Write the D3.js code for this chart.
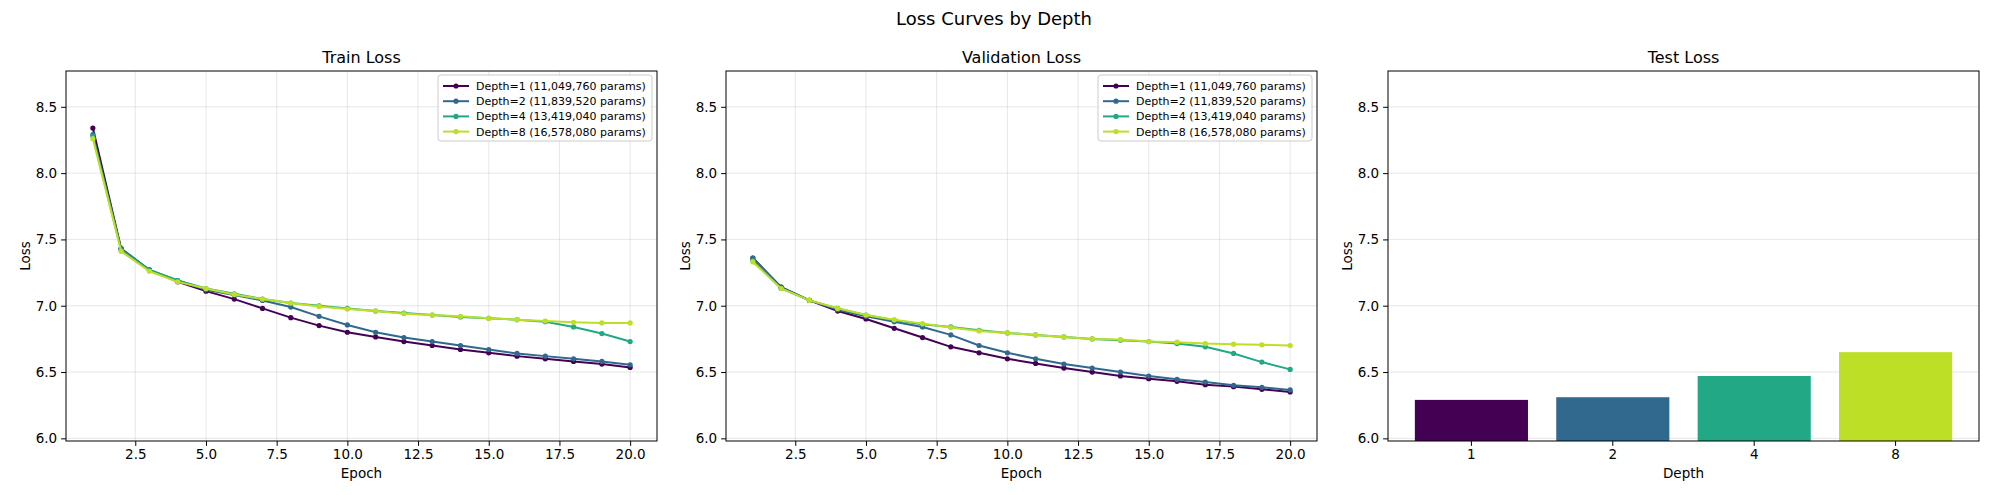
<!DOCTYPE html>
<html>
<head>
<meta charset="utf-8">
<script src="https://cdn.jsdelivr.net/npm/d3@7"></script>
<style>
  body { margin: 0; background: #fff; }
  text { font-family: "DejaVu Sans", sans-serif; fill: #000; }
  .grid line { stroke: #b0b0b0; stroke-opacity: 0.3; }
</style>
</head>
<body>
<div id="chart"></div>
<script>
var epochs = d3.range(1, 21);
var depths = [1, 2, 4, 8];
var seriesNames = ["Depth=1 (11,049,760 params)", "Depth=2 (11,839,520 params)",
  "Depth=4 (13,419,040 params)", "Depth=8 (16,578,080 params)"];
var colors = ["#440154", "#31688e", "#22a884", "#bddf26"];

var trainLoss = [
  [8.34, 7.43, 7.27, 7.18, 7.11, 7.05, 6.98, 6.91, 6.85, 6.80, 6.765, 6.73, 6.70, 6.67, 6.645, 6.62, 6.60, 6.58, 6.56, 6.535],
  [8.29, 7.43, 7.27, 7.19, 7.12, 7.08, 7.04, 6.99, 6.92, 6.855, 6.80, 6.76, 6.73, 6.70, 6.67, 6.64, 6.62, 6.60, 6.58, 6.555],
  [8.28, 7.42, 7.27, 7.19, 7.13, 7.09, 7.05, 7.02, 7.00, 6.98, 6.96, 6.945, 6.93, 6.915, 6.905, 6.895, 6.88, 6.84, 6.79, 6.73],
  [8.26, 7.41, 7.26, 7.18, 7.13, 7.085, 7.05, 7.02, 6.995, 6.975, 6.96, 6.94, 6.93, 6.92, 6.905, 6.895, 6.885, 6.875, 6.87, 6.87]
];
var valLoss = [
  [7.36, 7.14, 7.04, 6.96, 6.90, 6.83, 6.76, 6.69, 6.645, 6.60, 6.565, 6.53, 6.50, 6.47, 6.45, 6.43, 6.405, 6.39, 6.37, 6.35],
  [7.36, 7.14, 7.04, 6.97, 6.92, 6.88, 6.84, 6.78, 6.70, 6.645, 6.60, 6.56, 6.53, 6.50, 6.47, 6.445, 6.425, 6.40, 6.385, 6.365],
  [7.34, 7.13, 7.04, 6.98, 6.93, 6.89, 6.86, 6.84, 6.815, 6.795, 6.78, 6.765, 6.75, 6.74, 6.73, 6.715, 6.69, 6.64, 6.575, 6.52],
  [7.33, 7.13, 7.04, 6.98, 6.93, 6.895, 6.865, 6.835, 6.81, 6.795, 6.78, 6.765, 6.75, 6.745, 6.73, 6.725, 6.715, 6.71, 6.705, 6.70]
];
var testLoss = [6.29, 6.31, 6.47, 6.65];

var xTicks = [2.5, 5.0, 7.5, 10.0, 12.5, 15.0, 17.5, 20.0];
var yTicks = [6.0, 6.5, 7.0, 7.5, 8.0, 8.5];

var svg = d3.select("#chart").append("svg")
  .attr("width", 1989).attr("height", 495);

svg.append("text").attr("x", 994).attr("y", 25).attr("text-anchor", "middle")
  .style("font-size", "18px").text("Loss Curves by Depth");

var plotTop = 71, plotBottom = 441;
var panelLefts = [66, 726, 1388];
var panelW = 591;
var yScale = d3.scaleLinear().domain([5.98, 8.77]).range([plotBottom, plotTop]);

function frame(g, x, title, xlabel, xAxis) {
  g.append("g").attr("class", "grid")
    .selectAll("line").data(yTicks).enter().append("line")
    .attr("x1", 0).attr("x2", panelW)
    .attr("y1", d => yScale(d)).attr("y2", d => yScale(d));
  if (x.ticks) {
    g.append("g").attr("class", "grid")
      .selectAll("line").data(xTicks).enter().append("line")
      .attr("y1", plotTop).attr("y2", plotBottom)
      .attr("x1", d => x(d)).attr("x2", d => x(d));
  }
  var ya = g.append("g")
    .call(d3.axisLeft(yScale).tickValues(yTicks).tickFormat(d3.format(".1f")).tickSize(4.9).tickPadding(4));
  var xa = g.append("g").attr("transform", `translate(0,${plotBottom})`).call(xAxis);
  [ya, xa].forEach(a => {
    a.selectAll("text").style("font-size", "13.5px");
    a.select(".domain").remove();
    a.selectAll("line").attr("stroke", "#000");
  });
  g.append("text").attr("x", panelW / 2).attr("y", plotTop - 8).attr("text-anchor", "middle")
    .style("font-size", "16px").text(title);
  g.append("text").attr("x", panelW / 2).attr("y", plotBottom + 37).attr("text-anchor", "middle")
    .style("font-size", "13.5px").text(xlabel);
  g.append("text").attr("transform", `translate(-36,${(plotTop + plotBottom) / 2}) rotate(-90)`)
    .attr("text-anchor", "middle").style("font-size", "13.5px").text("Loss");
}

function border(g) {
  g.append("rect").attr("x", 0).attr("y", plotTop).attr("width", panelW).attr("height", plotBottom - plotTop)
    .attr("fill", "none").attr("stroke", "#000").attr("stroke-width", 1);
}

function linePanel(i, title, data) {
  var g = svg.append("g").attr("transform", `translate(${panelLefts[i]},0)`);
  var x = d3.scaleLinear().domain([0.05, 20.95]).range([0, panelW]);
  frame(g, x, title, "Epoch",
    d3.axisBottom(x).tickValues(xTicks).tickFormat(d3.format(".1f")).tickSize(4.9).tickPadding(4));
  var line = d3.line().x((d, j) => x(epochs[j])).y(d => yScale(d));
  data.forEach((s, k) => {
    g.append("path").datum(s).attr("d", line).attr("fill", "none")
      .attr("stroke", colors[k]).attr("stroke-width", 2);
    g.selectAll(null).data(s).enter().append("circle")
      .attr("cx", (d, j) => x(epochs[j])).attr("cy", d => yScale(d)).attr("r", 2.6)
      .attr("fill", colors[k]);
  });
  border(g);
  // legend
  var lw = 214, lh = 66, lx = panelW - lw - 5, ly = plotTop + 4;
  var lg = g.append("g").attr("transform", `translate(${lx},${ly})`);
  lg.append("rect").attr("width", lw).attr("height", lh).attr("rx", 3)
    .attr("fill", "#fff").attr("fill-opacity", 0.8).attr("stroke", "#ccc");
  seriesNames.forEach((n, k) => {
    var yy = 11 + k * 15.2;
    lg.append("line").attr("x1", 5).attr("x2", 31).attr("y1", yy).attr("y2", yy)
      .attr("stroke", colors[k]).attr("stroke-width", 2);
    lg.append("circle").attr("cx", 18).attr("cy", yy).attr("r", 2.6).attr("fill", colors[k]);
    lg.append("text").attr("x", 38).attr("y", yy + 4).style("font-size", "11px").text(n);
  });
}

linePanel(0, "Train Loss", trainLoss);
linePanel(1, "Validation Loss", valLoss);

// bar panel
var g3 = svg.append("g").attr("transform", `translate(${panelLefts[2]},0)`);
var xi = d3.scaleLinear().domain([-0.59, 3.59]).range([0, panelW]);
var xb = d3.scaleBand().domain(depths.map(String)).range([xi(-0.5), xi(3.5)]).paddingInner(0.2).paddingOuter(0.1);
frame(g3, {}, "Test Loss", "Depth", d3.axisBottom(xb).tickSize(4.9).tickPadding(4));
g3.selectAll("rect.bar").data(testLoss).enter().append("rect").attr("class", "bar")
  .attr("x", (d, i) => xb(String(depths[i]))).attr("width", xb.bandwidth())
  .attr("y", d => yScale(d)).attr("height", d => plotBottom - yScale(d))
  .attr("fill", (d, i) => colors[i]);
border(g3);
</script>
</body>
</html>
